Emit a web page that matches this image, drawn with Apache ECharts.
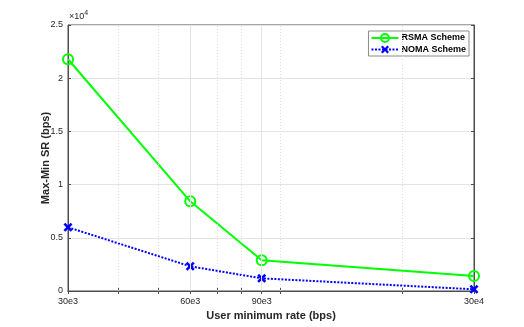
<!DOCTYPE html>
<html>
<head>
<meta charset="utf-8">
<script src="https://cdn.jsdelivr.net/npm/echarts@6/dist/echarts.min.js"></script>
<style>
  html, body { margin: 0; padding: 0; background: #fff; }
  #chart { width: 524px; height: 327px; }
</style>
</head>
<body>
<div id="chart"></div>
<script>
var rates = [30000, 60000, 90000, 300000];
var rsma = [21780, 8430, 2890, 1410];
var noma = [5990, 2320, 1190, 160];
var xTickValues = [30000, 60000, 90000, 300000];
var xTickLabels = ['30e3', '60e3', '90e3', '30e4'];
var xMinorValues = [40000, 50000, 70000, 80000, 100000, 200000];

var chart = echarts.init(document.getElementById('chart'));
var font = 'Liberation Sans, Arial, sans-serif';
var axisColor = '#4d4d4d';
var crossPath = 'path://M0,2 L2,0 L5,3 L8,0 L10,2 L7,5 L10,8 L8,10 L5,7 L2,10 L0,8 L3,5 Z';

function pairs(xs, ys) {
    return xs.map(function (x, i) { return [x, ys[i]]; });
}

var gridLines = [];
xTickValues.slice(1, 3).forEach(function (v) {
    gridLines.push({ xAxis: v, lineStyle: { color: '#e3e3e3', type: 'solid', width: 1 } });
});
xMinorValues.forEach(function (v) {
    gridLines.push({ xAxis: v, lineStyle: { color: '#dcdcdc', type: [1, 2], width: 1 } });
});

var xBase = {
    type: 'log',
    logBase: 10,
    min: 30000,
    max: 300000,
    axisLine: { show: true, lineStyle: { color: axisColor } },
    axisTick: {
        show: true, inside: true, length: 3,
        customValues: xTickValues.concat(xMinorValues),
        lineStyle: { color: axisColor }
    },
    splitLine: { show: false },
    minorSplitLine: { show: false }
};

var option = {
    animation: false,
    textStyle: { fontFamily: font },
    grid: {
        left: 68, right: 50, top: 25, bottom: 36,
        show: true, borderColor: axisColor, borderWidth: 1
    },
    legend: {
        orient: 'vertical',
        right: 55,
        top: 31,
        itemGap: 2,
        itemWidth: 27,
        itemHeight: 10,
        padding: [2, 3, 2, 2],
        borderColor: '#8c8c8c',
        borderWidth: 1,
        backgroundColor: '#fff',
        textStyle: { fontFamily: font, fontSize: 9, fontWeight: 'bold', color: '#000', padding: [0, 0, 0, -2] },
        data: ['RSMA Scheme', 'NOMA Scheme']
    },
    graphic: [{
        type: 'text',
        left: 69,
        top: 10,
        style: {
            text: '×10{s|4}',
            fontFamily: font,
            fontSize: 9,
            fill: '#262626',
            rich: { s: { fontSize: 7, verticalAlign: 'top', padding: [0, 0, 6, 0], fill: '#262626' } }
        }
    }],
    xAxis: [
        Object.assign({}, xBase, {
            position: 'bottom',
            name: 'User minimum rate (bps)',
            nameLocation: 'middle',
            nameGap: 19,
            nameMoveOverlap: false,
            nameTextStyle: { fontFamily: font, fontSize: 11, fontWeight: 'bold', color: '#262626' },
            axisLabel: {
                customValues: xTickValues,
                fontSize: 9,
                color: '#262626',
                margin: 6,
                formatter: function (v) {
                    var i = xTickValues.indexOf(Math.round(v));
                    return i >= 0 ? xTickLabels[i] : '';
                }
            }
        }),
        Object.assign({}, xBase, {
            position: 'top',
            axisLabel: { show: false }
        })
    ],
    yAxis: [{
        type: 'value',
        min: 0,
        max: 25000,
        interval: 5000,
        name: 'Max-Min SR (bps)',
        nameLocation: 'middle',
        nameGap: 17,
        nameMoveOverlap: false,
        nameTextStyle: { fontFamily: font, fontSize: 11, fontWeight: 'bold', color: '#262626' },
        axisLine: { show: true, lineStyle: { color: axisColor } },
        axisTick: { show: true, inside: true, length: 3, lineStyle: { color: axisColor } },
        axisLabel: {
            fontSize: 9,
            color: '#262626',
            margin: 5,
            formatter: function (v) { return String(v / 10000); }
        },
        splitLine: { show: true, lineStyle: { color: '#e3e3e3', width: 1 } }
    }, {
        type: 'value',
        min: 0,
        max: 25000,
        interval: 5000,
        position: 'right',
        axisLine: { show: true, lineStyle: { color: axisColor } },
        axisTick: { show: true, inside: true, length: 3, lineStyle: { color: axisColor } },
        axisLabel: { show: false },
        splitLine: { show: false }
    }],
    series: [{
        name: 'gridlines',
        type: 'line',
        data: [],
        silent: true,
        markLine: {
            silent: true,
            symbol: 'none',
            label: { show: false },
            animation: false,
            data: gridLines
        }
    }, {
        name: 'RSMA Scheme',
        type: 'line',
        data: pairs(rates, rsma),
        symbol: 'circle',
        symbolSize: 10,
        showAllSymbol: true,
        itemStyle: { color: 'rgba(0,0,0,0)', borderColor: '#00ff00', borderWidth: 2 },
        lineStyle: { color: '#00ff00', width: 2 },
        z: 3
    }, {
        name: 'NOMA Scheme',
        type: 'line',
        data: pairs(rates, noma),
        symbol: crossPath,
        symbolSize: 9,
        itemStyle: { color: '#0000ff', borderWidth: 0 },
        lineStyle: { color: '#0000ff', width: 2, type: [2, 1.5] },
        z: 3
    }]
};

chart.setOption(option);
</script>
</body>
</html>
